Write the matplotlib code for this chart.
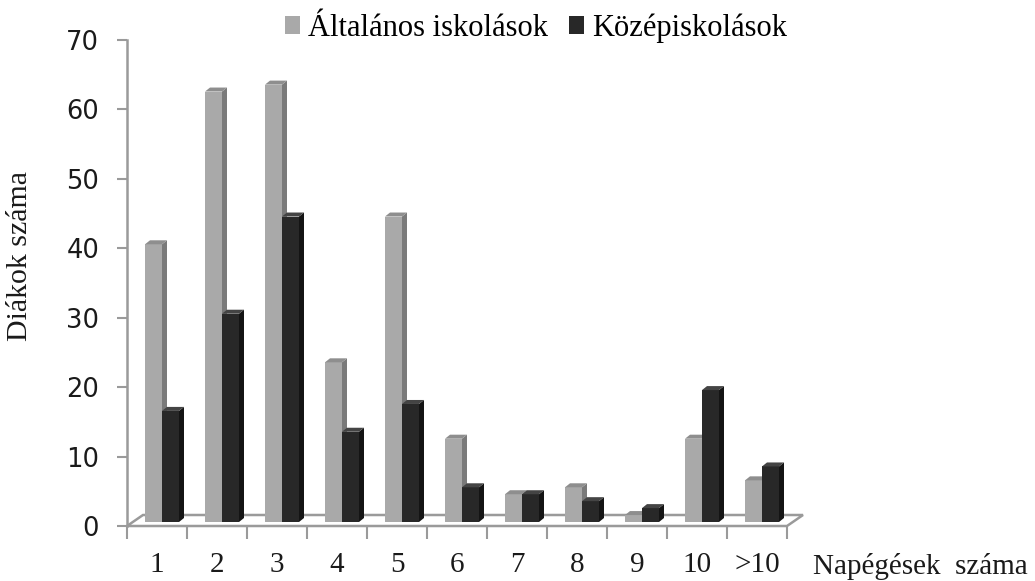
import matplotlib
matplotlib.use("Agg")
import matplotlib.pyplot as plt
from matplotlib.patches import Polygon, Patch

categories = ["1", "2", "3", "4", "5", "6", "7", "8", "9", "10", ">10"]
altalanos = [40, 62, 63, 23, 44, 12, 4, 5, 1, 12, 6]
kozep = [16, 30, 44, 13, 17, 5, 4, 3, 2, 19, 8]
series_names = ["Általános iskolások", "Középiskolások"]
yticks = [0, 10, 20, 30, 40, 50, 60, 70]

W, H = 1035, 581
fig = plt.figure(figsize=(W / 100, H / 100), dpi=100)
left_px, right_px, top_px, bot_px = 127, 787, 40, 526
ax = fig.add_axes([left_px / W, 1 - bot_px / H, (right_px - left_px) / W, (bot_px - top_px) / H])
n = len(categories)
ax.set_xlim(0, n)
ax.set_ylim(0, 70)

ux = n / (right_px - left_px)
uy = 70 / (bot_px - top_px)

axis_col = "#9a9a9a"
# floor
fdx, fdy = 16 * ux, 11 * uy
floor = Polygon([(0, 0), (n, 0), (n + fdx, fdy), (fdx, fdy)], closed=True,
                facecolor="white", edgecolor=axis_col, lw=1.8, clip_on=False, zorder=1)
ax.add_patch(floor)

base = 4 * uy
dx, dy = 5 * ux, 4 * uy
bw = 17 * ux
styles = [
    (altalanos, 18 * ux, "#a9a9a9", "#7a7a7a", "#8e8e8e"),
    (kozep, 18 * ux + bw, "#282828", "#141414", "#444444"),
]
for vals, off, cf, cs, ct in styles:
    for i, v in enumerate(vals):
        x0 = i + off
        x1 = x0 + bw
        top = base + v
        ax.bar(x0, v, width=bw, bottom=base, align="edge", color=cf, edgecolor="none",
               zorder=3, clip_on=False)
        ax.add_patch(Polygon([(x1, base), (x1, top), (x1 + dx, top + dy), (x1 + dx, base + dy)],
                             closed=True, facecolor=cs, edgecolor="none", zorder=3, clip_on=False))
        ax.add_patch(Polygon([(x0, top), (x1, top), (x1 + dx, top + dy), (x0 + dx, top + dy)],
                             closed=True, facecolor=ct, edgecolor="none", zorder=3, clip_on=False))

for s in ["top", "right", "bottom"]:
    ax.spines[s].set_visible(False)
ax.spines["left"].set_color(axis_col)
ax.spines["left"].set_linewidth(1.8)
ax.set_yticks(yticks)
ax.set_yticklabels([str(t) for t in yticks], fontfamily="DejaVu Sans", fontsize=18.5, color="#1a1a1a")
ax.tick_params(axis="y", length=7, width=1.5, color=axis_col, pad=13)

ax.set_xticks(range(n + 1))
ax.set_xticklabels([])
ax.set_xticks([i + 0.5 for i in range(n)], minor=True)
ax.set_xticklabels(categories, minor=True, fontfamily="Liberation Serif", fontsize=21, color="#1a1a1a")
ax.tick_params(axis="x", which="major", length=9, width=1.5, color=axis_col, direction="out")
ax.tick_params(axis="x", which="minor", length=0, pad=19)

fig.text(20 / W, 1 - 256 / H, "Diákok száma", rotation=90, ha="center", va="center",
         fontfamily="Liberation Serif", fontsize=21.5, color="#1a1a1a")
fig.text(813 / W, 1 - 566 / H, "Napégések  száma", ha="left", va="center",
         fontfamily="Liberation Serif", fontsize=21, color="#1a1a1a")

handles = [Patch(facecolor="#a9a9a9", edgecolor="none"), Patch(facecolor="#282828", edgecolor="none")]
fig.legend(handles, series_names, loc="center", bbox_to_anchor=(536 / W, 1 - 28 / H), ncol=2,
           frameon=False, prop={"family": "Liberation Serif", "size": 22},
           handlelength=0.5, handleheight=0.5, handletextpad=0.25, columnspacing=0.7, borderpad=0)

fig.savefig("out.png", dpi=100, facecolor="white")
